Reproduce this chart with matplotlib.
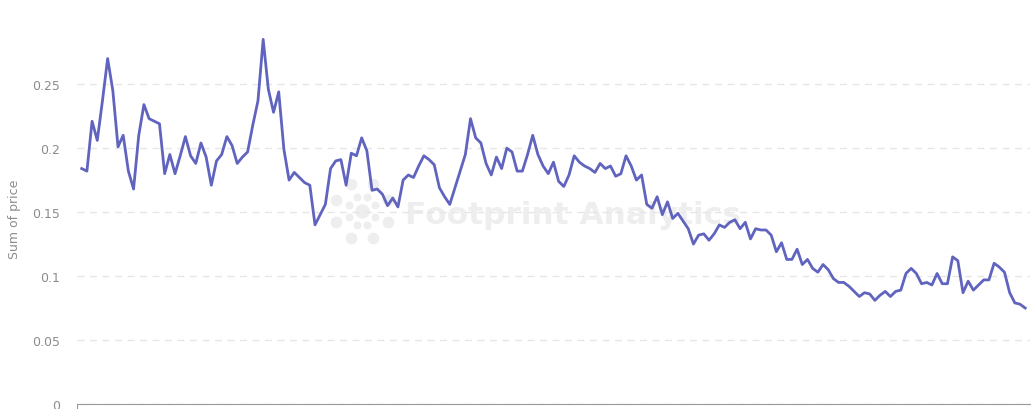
import matplotlib.pyplot as plt
import numpy as np

# daily sum of price
prices = [
    0.184, 0.182, 0.221, 0.206, 0.237, 0.270, 0.245, 0.201, 0.210, 0.182,
    0.168, 0.210, 0.234, 0.223, 0.221, 0.219, 0.180, 0.195, 0.180, 0.194,
    0.209, 0.194, 0.188, 0.204, 0.193, 0.171, 0.190, 0.195, 0.209, 0.202,
    0.188, 0.193, 0.197, 0.218, 0.237, 0.285, 0.246, 0.228, 0.244, 0.199,
    0.175, 0.181, 0.177, 0.173, 0.171, 0.140, 0.148, 0.156, 0.184, 0.190,
    0.191, 0.171, 0.196, 0.194, 0.208, 0.198, 0.167, 0.168, 0.164, 0.155,
    0.161, 0.154, 0.175, 0.179, 0.177, 0.186, 0.194, 0.191, 0.187, 0.169,
    0.162, 0.156, 0.169, 0.182, 0.195, 0.223, 0.208, 0.204, 0.188, 0.179,
    0.193, 0.184, 0.200, 0.197, 0.182, 0.182, 0.195, 0.210, 0.195, 0.186,
    0.180, 0.189, 0.174, 0.170, 0.179, 0.194, 0.189, 0.186, 0.184, 0.181,
    0.188, 0.184, 0.186, 0.178, 0.180, 0.194, 0.186, 0.175, 0.179, 0.156,
    0.153, 0.162, 0.148, 0.158, 0.145, 0.149, 0.143, 0.137, 0.125, 0.132,
    0.133, 0.128, 0.133, 0.140, 0.138, 0.142, 0.144, 0.137, 0.142, 0.129,
    0.137, 0.136, 0.136, 0.132, 0.119, 0.126, 0.113, 0.113, 0.121, 0.109,
    0.113, 0.106, 0.103, 0.109, 0.105, 0.098, 0.095, 0.095, 0.092, 0.088,
    0.084, 0.087, 0.086, 0.081, 0.085, 0.088, 0.084, 0.088, 0.089, 0.102,
    0.106, 0.102, 0.094, 0.095, 0.093, 0.102, 0.094, 0.094, 0.115, 0.112,
    0.087, 0.096, 0.089, 0.093, 0.097, 0.097, 0.110, 0.107, 0.103, 0.087,
    0.079, 0.078, 0.075,
]
days = np.arange(len(prices))

y_ticks = [0, 0.05, 0.1, 0.15, 0.2, 0.25]
y_tick_labels = ["0", "0.05", "0.1", "0.15", "0.2", "0.25"]

fig = plt.figure(figsize=(10.35, 4.1), dpi=100)
ax = fig.add_axes([0.0744, 0.0122, 0.921, 0.905])

# watermark
wm = "#eeeeee"
ax.text(0.344, 0.512, "Footprint Analytics", transform=ax.transAxes,
        fontsize=22.5, fontweight="bold", color=wm, va="center",
        ha="left", zorder=0)
cx, cy = 0.299, 0.52
ang = np.linspace(0, 2 * np.pi, 9)[:-1] + np.pi / 8
ax.scatter(cx + 0.015 * np.cos(ang), cy + 0.04 * np.sin(ang),
           s=22, color=wm, transform=ax.transAxes, zorder=0)
ax.scatter(cx + 0.03 * np.cos(ang), cy + 0.08 * np.sin(ang),
           s=55, color=wm, transform=ax.transAxes, zorder=0)
ax.scatter([cx], [cy], s=90, color=wm, transform=ax.transAxes, zorder=0)

ax.plot(days, prices, color="#6064bf", linewidth=2.0, zorder=3)

ax.set_xlim(-0.91, len(prices) - 0.03)
ax.set_ylim(0, 0.29)
ax.set_yticks(y_ticks)
ax.set_yticklabels(y_tick_labels)
ax.set_xticks([-0.91])
ax.set_xticklabels([])
ax.tick_params(axis="x", length=5, color="#999999")
ax.tick_params(axis="y", length=0, labelsize=9, labelcolor="#8c8c8c", pad=12)

ax.grid(axis="y", color="#e6e6e6", linestyle=(0, (5, 4)), linewidth=1)
ax.set_axisbelow(True)
for side in ["top", "right", "left"]:
    ax.spines[side].set_visible(False)
ax.spines["bottom"].set_color("#999999")

ax.set_ylabel("Sum of price", fontsize=9, color="#8c8c8c", labelpad=8)

fig.savefig("out.png", dpi=100)
